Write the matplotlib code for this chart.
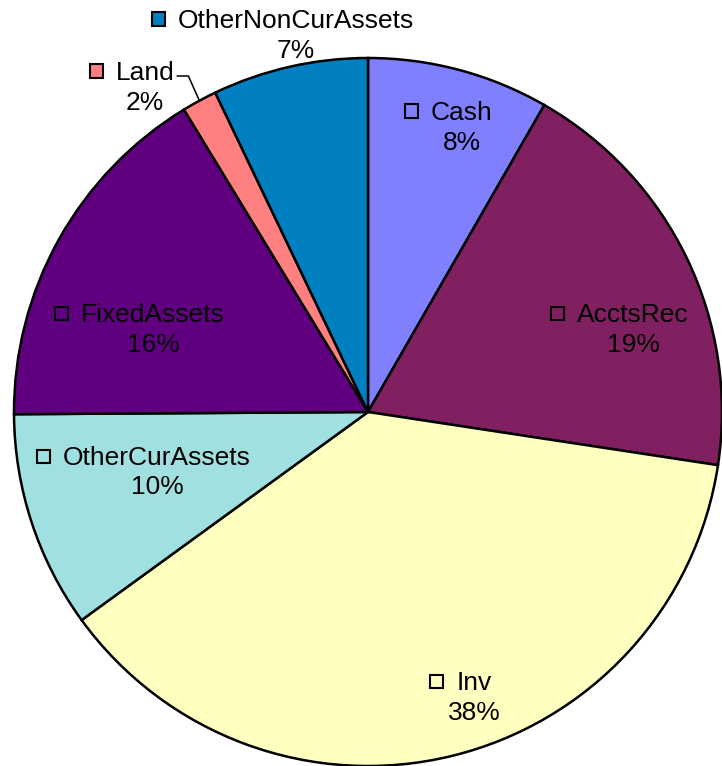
import matplotlib
matplotlib.use('Agg')
import matplotlib.pyplot as plt
from matplotlib.patches import Rectangle
import numpy as np

plt.rcParams['font.family'] = ['Liberation Sans', 'DejaVu Sans']

# slice data, clockwise from 12 o'clock
names  = ['Cash', 'AcctsRec', 'Inv', 'OtherCurAssets', 'FixedAssets', 'Land', 'OtherNonCurAssets']
values = [8.3, 19.1, 37.6, 9.9, 16.4, 1.6, 7.1]
colors = ['#8080FF', '#802060', '#FFFFC0', '#A0E0E0', '#600080', '#FF8080', '#0080C0']

# label layout in pixels: name centre x, name baseline y
label_px = [(462, 120), (633, 322), (474, 690), (157, 465),
            (153, 322), (145, 80), (296, 28)]
line_gap = 29.5

W, H = 722, 766
cx, cy, R = 368, 412, 354   # pie centre and radius in pixels

fig = plt.figure(figsize=(W / 100, H / 100), dpi=100)
ax = fig.add_axes([0, 0, 1, 1])

def px2d(x, y):
    return (x - cx) / R, (cy - y) / R

wedges, _ = ax.pie(values, colors=colors, startangle=90, counterclock=False,
                   radius=1, center=(0, 0), frame=True,
                   wedgeprops=dict(edgecolor='black', linewidth=1.8))
ax.set_xlim(-cx / R, (W - cx) / R)
ax.set_ylim(-(H - cy) / R, cy / R)
ax.set_aspect('equal')
ax.axis('off')

fs = 19
name_texts = []
for name, val, (x, y) in zip(names, values, label_px):
    tx, ty = px2d(x, y)
    t = ax.text(tx, ty, name, ha='center', va='baseline', fontsize=fs, color='black')
    name_texts.append(t)
    px_, py_ = px2d(x, y + line_gap)
    ax.text(px_, py_, f'{val:.0f}%', ha='center', va='baseline', fontsize=fs, color='black')

# legend keys to the left of each name
fig.canvas.draw()
rend = fig.canvas.get_renderer()
sq = 13
for t, col, (x, y) in zip(name_texts, colors, label_px):
    bb = t.get_window_extent(rend)
    left_px = bb.x0 - 13 - sq
    x0, y0 = px2d(left_px, y - 9 + sq / 2)
    ax.add_patch(Rectangle((x0, y0), sq / R, sq / R, facecolor=col,
                           edgecolor='black', linewidth=1.5, zorder=5))

# leader line for Land
land = wedges[names.index('Land')]
mid = np.radians((land.theta1 + land.theta2) / 2)
ex, ey = np.cos(mid), np.sin(mid)
bb = name_texts[names.index('Land')].get_window_extent(rend)
sx, sy = px2d(bb.x1 + 3, 76)
kx, ky = px2d(bb.x1 + 14, 76)
ax.plot([sx, kx, ex], [sy, ky, ey], color='black', linewidth=1.1, zorder=4)

fig.savefig('out.png', dpi=100)
